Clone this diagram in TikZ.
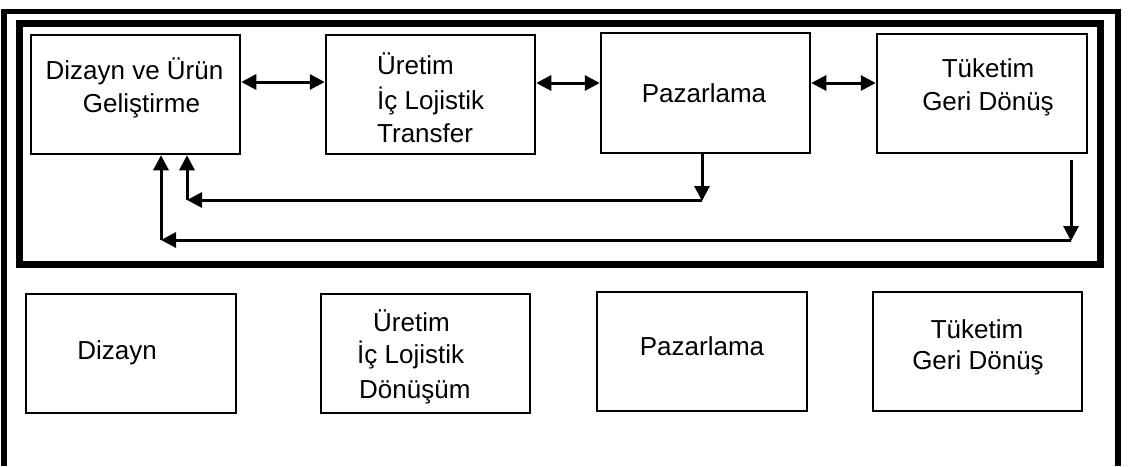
\documentclass[tikz,border=0pt]{standalone}
\usepackage{fontspec}
\setmainfont{Liberation Sans}
\usetikzlibrary{arrows.meta}
\begin{document}
\begin{tikzpicture}[x=1pt,y=-1pt,
  box/.style={draw,line width=2.5pt,inner sep=0pt,minimum width=209pt,minimum height=119pt},
  txt/.style={font=\fontsize{26}{30}\selectfont,inner sep=0pt},
  arr/.style={line width=3pt,-{Triangle[length=15pt,width=15pt]}},
  dbl/.style={line width=3pt,{Triangle[length=15pt,width=15pt]}-{Triangle[length=15pt,width=15pt]}},
  frameA/.style={line width=5.5pt,line join=miter},
  frameB/.style={line width=7pt,line join=miter}]
\useasboundingbox (0,0) rectangle (1132,466);
\fill[white] (0,0) rectangle (1132,466);
% frames
\draw[frameA] (4,466) -- (4,11.5) -- (1118,11.5) -- (1118,466);
\draw[frameB] (19.5,23) rectangle (1100,264);
% top boxes
\node[box] (b1) at (135.5,94.5) {};
\node[box] (b2) at (430.5,94.5) {};
\node[box,minimum height=120pt] (b3) at (705.5,93) {};
\node[box,minimum width=210pt] (b4) at (982,93.5) {};
% bottom boxes
\node[box,minimum width=210pt] (c1) at (131,353.5) {};
\node[box] (c2) at (425.5,353.5) {};
\node[box,minimum width=210pt] (c3) at (702,351.5) {};
\node[box] (c4) at (977.5,351.5) {};
% top texts
\node[txt,anchor=base] (t1a) at (134.5,79) {Dizayn ve Ürün};
\node[txt,anchor=base] (t1b) at (141.5,112) {Geliştirme};
\node[txt,anchor=base west] (t2a) at (377,74) {Üretim};
\node[txt,anchor=base west] (t2b) at (377,109) {İç Lojistik};
\node[txt,anchor=base west] (t2c) at (377,142) {Transfer};
\node[txt,anchor=base] (t3) at (704,102) {Pazarlama};
\node[txt,anchor=base] (t4a) at (988,77) {Tüketim};
\node[txt,anchor=base] (t4b) at (988,110) {Geri Dönüş};
% bottom texts
\node[txt,anchor=base] (u1) at (117,359) {Dizayn};
\node[txt,anchor=base west] (u2a) at (373,331) {Üretim};
\node[txt,anchor=base west] (u2b) at (357,363) {İç Lojistik};
\node[txt,anchor=base west] (u2c) at (359,398) {Dönüşüm};
\node[txt,anchor=base] (u3) at (702,355) {Pazarlama};
\node[txt,anchor=base] (u4a) at (977,338) {Tüketim};
\node[txt,anchor=base] (u4b) at (978,369) {Geri Dönüş};
% horizontal double arrows
\coordinate (h1) at (0,82);
\coordinate (h2) at (0,83);
\draw[dbl] (b1.east |- h1) -- (b2.west |- h1);
\draw[dbl] (b2.east |- h2) -- (b3.west |- h2);
\draw[dbl] (b3.east |- h2) -- (b4.west |- h2);
% feedback from Pazarlama
\coordinate (p1) at (702,201);
\coordinate (p2) at (187,200);
\draw[arr] (b3.south -| p1) -- (p1);
\draw[arr] (p1 |- p2) -- (p2);
\draw[arr] (p2) -- (b1.south -| p2);
% feedback from Tuketim
\coordinate (q0) at (1071,160);
\coordinate (q1) at (1071,241);
\coordinate (q2) at (161,240);
\draw[arr] (q0) -- (q1);
\draw[arr] (q1 |- q2) -- (q2);
\draw[arr] (q2) -- (b1.south -| q2);
\end{tikzpicture}
\end{document}
